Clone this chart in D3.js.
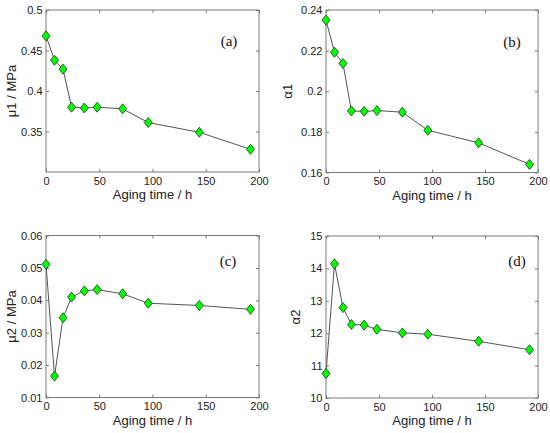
<!DOCTYPE html>
<html>
<head>
<meta charset="utf-8">
<script src="https://cdn.jsdelivr.net/npm/d3@7"></script>
<style>
  body { margin: 0; background: #fff; }
  svg { display: block; }
  .tick text { font-family: "Liberation Sans", Arial, sans-serif; font-size: 11px; fill: #222; }
</style>
</head>
<body>
<svg id="chart" width="550" height="433" viewBox="0 0 550 433"></svg>
<script>
// aging time, hours
const agingTime = [0, 8, 16, 24, 36, 48, 72, 96, 144, 192]
// fitted parameters
const mu1 = [0.468, 0.438, 0.427, 0.380, 0.379, 0.380, 0.378, 0.361, 0.349, 0.328]
const alpha1 = [0.235, 0.2192, 0.2137, 0.1903, 0.1901, 0.1905, 0.1897, 0.1808, 0.1746, 0.164]
const mu2 = [0.0511, 0.0166, 0.0346, 0.0410, 0.0429, 0.0433, 0.0420, 0.0391, 0.0384, 0.0372]
const alpha2 = [10.76, 14.14, 12.79, 12.27, 12.25, 12.12, 12.01, 11.97, 11.75, 11.49]

const xTicks = [0, 50, 100, 150, 200]
const mu1Ticks = [0.35, 0.4, 0.45, 0.5]
const alpha1Ticks = [0.16, 0.18, 0.2, 0.22, 0.24]
const mu2Ticks = [0.01, 0.02, 0.03, 0.04, 0.05, 0.06]
const alpha2Ticks = [10, 11, 12, 13, 14, 15]

let svg = d3.select("#chart")

// one panel per parameter
const panels = [
    {vals: mu1, ticks: mu1Ticks, dom: [0.3, 0.5], ylab: "\u03bc1 / MPa", tag: "(a)",
     box: [46, 10, 259, 172], ylabX: 11, tagPos: [229, 41]},
    {vals: alpha1, ticks: alpha1Ticks, dom: [0.16, 0.24], ylab: "\u03b11", tag: "(b)",
     box: [326, 10, 538, 172.5], ylabX: 287, tagPos: [512, 42]},
    {vals: mu2, ticks: mu2Ticks, dom: [0.01, 0.06], ylab: "\u03bc2 / MPa", tag: "(c)",
     box: [46, 235.5, 259, 397.5], ylabX: 11, tagPos: [228, 261]},
    {vals: alpha2, ticks: alpha2Ticks, dom: [10, 15], ylab: "\u03b12", tag: "(d)",
     box: [326, 236, 538, 398], ylabX: 295, tagPos: [517, 261]}
]

panels.forEach(function (p) {
    let [x0, y0, x1, y1] = p.box
    let x = d3.scaleLinear().domain([0, 200]).range([x0, x1])
    let y = d3.scaleLinear().domain(p.dom).range([y1, y0])
    let g = svg.append("g")

    // frame
    g.append("rect")
        .attr("x", x0).attr("y", y0)
        .attr("width", x1 - x0).attr("height", y1 - y0)
        .attr("fill", "none").attr("stroke", "#7a7a7a").attr("stroke-width", 1)

    // bottom + left axes with labels, ticks pointing in
    let xb = g.append("g").attr("transform", `translate(0,${y1})`)
        .call(d3.axisBottom(x).tickValues(xTicks).tickSizeInner(-3).tickSizeOuter(0).tickPadding(5))
    let yl = g.append("g").attr("transform", `translate(${x0},0)`)
        .call(d3.axisLeft(y).tickValues(p.ticks).tickFormat(d3.format("~g")).tickSizeInner(-3).tickSizeOuter(0).tickPadding(3.5))
    // mirror ticks on top + right
    let xt = g.append("g").attr("transform", `translate(0,${y0})`)
        .call(d3.axisTop(x).tickValues(xTicks).tickSizeInner(-3).tickSizeOuter(0).tickFormat(""))
    let yr = g.append("g").attr("transform", `translate(${x1},0)`)
        .call(d3.axisRight(y).tickValues(p.ticks).tickSizeInner(-3).tickSizeOuter(0).tickFormat(""))
    ;[xb, yl, xt, yr].forEach(function (a) {
        a.select(".domain").remove()
        a.selectAll(".tick line").attr("stroke", "#7a7a7a")
    })

    // axis titles
    g.append("text")
        .attr("x", (x0 + x1) / 2).attr("y", y1 + 27)
        .attr("text-anchor", "middle")
        .style("font-family", "Liberation Sans, Arial, sans-serif")
        .style("font-size", "13px").attr("fill", "#222")
        .text("Aging time / h")
    g.append("text")
        .attr("transform", `translate(${p.ylabX + 5},${(y0 + y1) / 2}) rotate(-90)`)
        .attr("text-anchor", "middle")
        .style("font-family", "Liberation Sans, Arial, sans-serif")
        .style("font-size", "13px").attr("fill", "#222")
        .text(p.ylab)

    // panel tag
    g.append("text")
        .attr("x", p.tagPos[0]).attr("y", p.tagPos[1] + 5)
        .attr("text-anchor", "middle")
        .style("font-family", "Liberation Serif, Times New Roman, serif")
        .style("font-size", "15px").attr("fill", "#111")
        .text(p.tag)

    let pts = agingTime.map((t, i) => [t, p.vals[i]])
    g.append("path")
        .datum(pts)
        .attr("fill", "none").attr("stroke", "#555").attr("stroke-width", 1)
        .attr("d", d3.line().x(d => x(d[0])).y(d => y(d[1])))

    // diamond markers
    g.selectAll(".mk")
        .data(pts)
        .enter()
        .append("path")
        .attr("class", "mk")
        .attr("transform", d => `translate(${x(d[0])},${y(d[1])})`)
        .attr("d", "M0,-5L4,0L0,5L-4,0Z")
        .attr("fill", "#00ff00")
        .attr("stroke", "#1a3a1a").attr("stroke-width", 0.8)
})
</script>
</body>
</html>
